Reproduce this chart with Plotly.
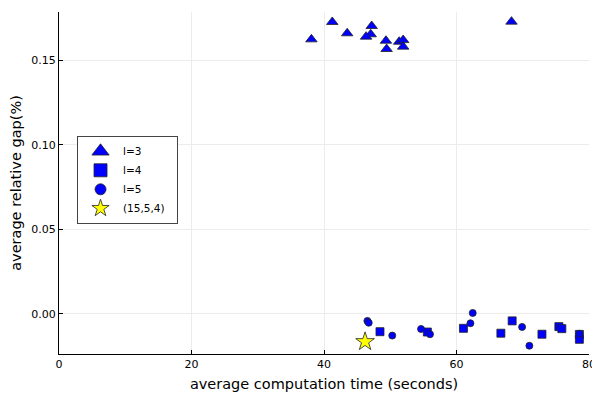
import plotly.graph_objects as go

# l=3 (triangles)
l3_time = [38.1, 41.25, 43.5, 47.2, 47.05, 46.35, 49.35, 49.45, 51.35, 51.95, 51.95, 68.3]
l3_gap = [0.1625, 0.1728, 0.1661, 0.1704, 0.1655, 0.1641, 0.1617, 0.1568, 0.1611, 0.1621, 0.1582, 0.1730]

# l=4 (squares)
l4_time = [48.45, 55.6, 61.05, 68.4, 66.7, 72.9, 75.45, 75.9, 78.55, 78.55]
l4_gap = [-0.0105, -0.0107, -0.0085, -0.0041, -0.0114, -0.0120, -0.0075, -0.0087, -0.0121, -0.0150]

# l=5 (circles)
l5_time = [46.55, 46.75, 50.3, 54.65, 56.0, 62.45, 62.1, 69.9, 71.0, 78.55]
l5_gap = [-0.0041, -0.0052, -0.0128, -0.0089, -0.0120, 0.0006, -0.0055, -0.0077, -0.0188, -0.0117]

# (15,5,4) (star)
star_time = [46.2]
star_gap = [-0.0164]

series_names = ["l=3", "l=4", "l=5", "(15,5,4)"]
x_ticks = [0, 20, 40, 60, 80]
y_ticks = [0.00, 0.05, 0.10, 0.15]
y_tick_labels = ["0.00", "0.05", "0.10", "0.15"]

line = dict(color="#222222", width=0.8)
specs = [
    (l3_time, l3_gap, "triangle-up", 10, 15, "#0000ff"),
    (l4_time, l4_gap, "square", 8, 13, "#0000ff"),
    (l5_time, l5_gap, "circle", 7, 11, "#0000ff"),
    (star_time, star_gap, "star", 14, 13, "#ffff00"),
]
fig = go.Figure()
for name, (xs, ys, sym, size, lsize, col) in zip(series_names, specs):
    fig.add_trace(go.Scatter(x=xs, y=ys, mode="markers", name=name, showlegend=False,
                             legendgroup=name,
                             marker=dict(symbol=sym, size=size, color=col, line=line)))
for name, (xs, ys, sym, size, lsize, col) in zip(series_names, specs):
    fig.add_trace(go.Scatter(x=[None], y=[None], mode="markers", name=name + "  ", showlegend=True,
                             legendgroup=name,
                             marker=dict(symbol=sym, size=lsize, color=col, line=line)))

font = "DejaVu Sans, sans-serif"
fig.update_layout(
    width=592, height=392,
    margin=dict(l=51, r=11, t=4, b=46),
    paper_bgcolor="white", plot_bgcolor="white",
    font=dict(family=font, color="black"),
    showlegend=True,
    legend=dict(x=0.034, y=0.638, xanchor="left", yanchor="top",
                bgcolor="white", bordercolor="#444444", borderwidth=1,
                font=dict(size=10.5, family=font), tracegroupgap=0, itemsizing="trace",
                itemwidth=35),
    xaxis=dict(range=[0, 80], tickvals=x_ticks, ticks="inside", ticklen=4, tickcolor="black",
               showline=True, linecolor="black", linewidth=1, mirror=False, automargin=False,
               showgrid=True, gridcolor="#ececec", gridwidth=0.6, zeroline=False,
               tickfont=dict(size=11),
               title=dict(text="average computation time (seconds)", font=dict(size=14.5), standoff=8)),
    yaxis=dict(range=[-0.0237, 0.1787], tickvals=y_ticks, ticktext=y_tick_labels,
               ticks="inside", ticklen=4, tickcolor="black", automargin=False,
               showline=True, linecolor="black", linewidth=1, mirror=False,
               showgrid=True, gridcolor="#ececec", gridwidth=0.6, zeroline=False,
               tickfont=dict(size=11),
               title=dict(text="average relative gap(%)", font=dict(size=14.5), standoff=6)),
)
fig.write_html("out.html")
